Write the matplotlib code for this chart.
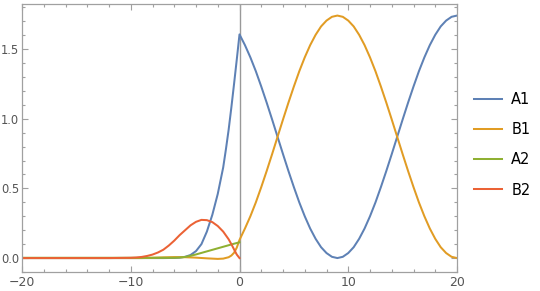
import matplotlib
matplotlib.use("Agg")
import matplotlib.pyplot as plt
from matplotlib.ticker import MultipleLocator, FormatStrFormatter

# values
x_right = [0.5, 1, 1.5, 2, 2.5, 3, 3.5, 4, 4.5, 5, 5.5, 6, 6.5, 7, 7.5, 8,
           8.5, 9, 9.5, 10, 10.5, 11, 11.5, 12, 12.5, 13, 13.5, 14, 14.5,
           15, 15.5, 16, 16.5, 17, 17.5, 18, 18.5, 19, 19.5, 20]

a1_left_x = [-20, -10, -7, -6, -5.5, -5, -4.5, -4, -3.5, -3, -2.5, -2,
             -1.5, -1.25, -1, -0.75, -0.5, -0.25, 0]
a1_left_y = [0, 0, 0, 0.001, 0.003, 0.009, 0.022, 0.05, 0.10, 0.19, 0.31,
             0.46, 0.65, 0.78, 0.92, 1.08, 1.25, 1.425, 1.605]
a1_right_y = [1.528, 1.440, 1.341, 1.231, 1.115, 0.994, 0.870, 0.746, 0.625,
              0.509, 0.399, 0.300, 0.212, 0.138, 0.078, 0.036, 0.009, 0.0,
              0.009, 0.036, 0.078, 0.138, 0.212, 0.300, 0.399, 0.509, 0.625,
              0.746, 0.870, 0.994, 1.115, 1.231, 1.341, 1.440, 1.528, 1.602,
              1.662, 1.704, 1.731, 1.740]

b1_left_x = [-20, -9, -8, -7, -6, -5, -4, -3, -2, -1.5, -1, -0.75, -0.5,
             -0.25, 0]
b1_left_y = [0, 0, 0.002, 0.005, 0.007, 0.006, 0.003, -0.002, -0.006,
             -0.004, 0.006, 0.018, 0.038, 0.075, 0.13]
b1_right_y = [0.212, 0.300, 0.399, 0.509, 0.625, 0.746, 0.870, 0.994, 1.115,
              1.231, 1.341, 1.440, 1.528, 1.602, 1.662, 1.704, 1.731, 1.740,
              1.731, 1.704, 1.662, 1.602, 1.528, 1.440, 1.341, 1.231, 1.115,
              0.994, 0.870, 0.746, 0.625, 0.509, 0.399, 0.300, 0.212, 0.138,
              0.078, 0.036, 0.009, 0.0]

a2_x = [-20, -6, -5.5, -5, -4.5, -4, -3.5, -3, -2.5, -2, -1.5, -1, -0.5, 0]
a2_y = [0.002, 0.002, 0.004, 0.008, 0.016, 0.026, 0.037, 0.048, 0.059,
        0.070, 0.081, 0.092, 0.103, 0.113]

b2_x = [-20, -12, -11, -10, -9.5, -9, -8.5, -8, -7.5, -7, -6.5, -6, -5.5,
        -5, -4.5, -4, -3.5, -3, -2.5, -2, -1.5, -1, -0.75, -0.5, -0.25, 0]
b2_y = [0, 0, 0.001, 0.002, 0.004, 0.008, 0.015, 0.025, 0.04, 0.06, 0.09,
        0.125, 0.165, 0.20, 0.235, 0.26, 0.274, 0.272, 0.258, 0.23, 0.19,
        0.135, 0.10, 0.062, 0.025, 0.0]

labels = ["A1", "B1", "A2", "B2"]
colors = ["#5E81B5", "#E19C24", "#8FB032", "#EB6235"]

series = [
    (a1_left_x + x_right, a1_left_y + a1_right_y),
    (b1_left_x + x_right, b1_left_y + b1_right_y),
    (a2_x, a2_y),
    (b2_x, b2_y),
]

fig = plt.figure(figsize=(5.4, 2.91), dpi=100)
ax = fig.add_axes([22 / 540, 19 / 291, 435 / 540, 268 / 291])

ax.axvline(0, color="#999999", lw=1.0, zorder=1)
for (xs, ys), lab, c in zip(series, labels, colors):
    ax.plot(xs, ys, color=c, lw=1.45, label=lab, zorder=2)

ax.set_xlim(-20, 20)
ax.set_ylim(-0.1, 1.823)

frame_col = "#a0a0a0"
for sp in ax.spines.values():
    sp.set_color(frame_col)
    sp.set_linewidth(0.9)

ax.xaxis.set_major_locator(MultipleLocator(10))
ax.xaxis.set_minor_locator(MultipleLocator(2))
ax.yaxis.set_major_locator(MultipleLocator(0.5))
ax.yaxis.set_minor_locator(MultipleLocator(0.1))
ax.yaxis.set_major_formatter(FormatStrFormatter("%.1f"))
ax.tick_params(which="both", direction="in", top=True, right=True,
               color=frame_col, width=0.8, labelcolor="#555555",
               labelsize=9)
ax.tick_params(which="major", length=4.5, pad=3)
ax.tick_params(which="minor", length=2.5)
ax.tick_params(axis="y", which="major", labelsize=8.3, pad=2)

fig.legend(loc="center left", bbox_to_anchor=(0.878, 0.503), frameon=False,
           fontsize=10.5, handlelength=1.9, handletextpad=0.65,
           labelspacing=1.05, borderpad=0, borderaxespad=0)

fig.savefig("out.png", dpi=100)
